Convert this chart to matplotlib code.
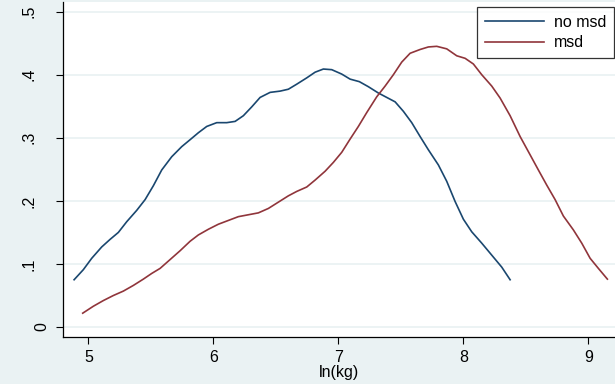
import matplotlib.pyplot as plt
from matplotlib.transforms import ScaledTranslation

# densidades (ln(kg) vs densidad)
x_no = [4.886, 4.960, 5.027, 5.107, 5.174, 5.240, 5.307, 5.387, 5.454, 5.520,
        5.587, 5.667, 5.747, 5.814, 5.880, 5.947, 6.027, 6.107, 6.174, 6.240,
        6.307, 6.374, 6.454, 6.534, 6.600, 6.667, 6.747, 6.814, 6.880, 6.947,
        7.027, 7.094, 7.168, 7.240, 7.320, 7.387, 7.454, 7.520, 7.587, 7.654,
        7.720, 7.800, 7.867, 7.934, 8.000, 8.067, 8.147, 8.227, 8.307, 8.374]
y_no = [0.075, 0.091, 0.109, 0.127, 0.139, 0.150, 0.167, 0.185, 0.202, 0.224,
        0.249, 0.270, 0.286, 0.297, 0.308, 0.318, 0.324, 0.324, 0.326, 0.335,
        0.349, 0.364, 0.372, 0.374, 0.377, 0.385, 0.395, 0.404, 0.409, 0.408,
        0.401, 0.393, 0.389, 0.381, 0.371, 0.364, 0.357, 0.342, 0.324, 0.302,
        0.281, 0.257, 0.231, 0.199, 0.171, 0.151, 0.133, 0.114, 0.095, 0.075]

x_msd = [4.955, 5.040, 5.120, 5.200, 5.280, 5.360, 5.440, 5.507, 5.574, 5.654,
         5.734, 5.814, 5.880, 5.960, 6.040, 6.120, 6.200, 6.280, 6.360, 6.440,
         6.520, 6.600, 6.667, 6.747, 6.814, 6.894, 6.960, 7.027, 7.094, 7.160,
         7.227, 7.307, 7.374, 7.440, 7.507, 7.574, 7.654, 7.720, 7.787, 7.867,
         7.947, 8.014, 8.080, 8.147, 8.227, 8.294, 8.374, 8.454, 8.534, 8.600,
         8.667, 8.734, 8.800, 8.880, 8.947, 9.014, 9.080, 9.152]
y_msd = [0.022, 0.033, 0.042, 0.050, 0.057, 0.066, 0.076, 0.085, 0.093, 0.107,
         0.121, 0.136, 0.146, 0.155, 0.163, 0.169, 0.175, 0.178, 0.181, 0.188,
         0.198, 0.208, 0.215, 0.222, 0.233, 0.247, 0.261, 0.277, 0.298, 0.318,
         0.340, 0.365, 0.382, 0.400, 0.420, 0.434, 0.440, 0.444, 0.445, 0.441,
         0.430, 0.426, 0.417, 0.400, 0.382, 0.363, 0.335, 0.302, 0.273, 0.249,
         0.225, 0.202, 0.176, 0.154, 0.133, 0.109, 0.093, 0.076]

xticks = [5, 6, 7, 8, 9]
yticks = [0, 0.1, 0.2, 0.3, 0.4, 0.5]
yticklabels = ['0', '.1', '.2', '.3', '.4', '.5']

plt.rcParams['font.family'] = ['Liberation Sans', 'DejaVu Sans']
fs = 11.5

fondo = '#eaf2f3'
fig = plt.figure(figsize=(6.15, 3.84), dpi=100, facecolor=fondo)
ax = fig.add_axes([0.103, 0.122, 0.897, 0.874])
ax.set_facecolor('white')

ax.plot(x_no, y_no, color='#1a476f', lw=1.2, label='no msd')
ax.plot(x_msd, y_msd, color='#90353b', lw=1.2, label='msd')

ax.set_xlim(4.8, 9.213)
ax.set_ylim(-0.016, 0.516)
ax.set_xticks(xticks)
ax.set_yticks(yticks)
ax.set_yticklabels(yticklabels, rotation=90, va='center')
ax.grid(axis='y', color=fondo, lw=1.3)
ax.set_axisbelow(True)

for lado in ['top', 'right']:
    ax.spines[lado].set_visible(False)
ax.spines['left'].set_linewidth(0.9)
ax.spines['bottom'].set_linewidth(0.9)
ax.tick_params(axis='y', length=5, width=0.8, pad=14, labelsize=fs)
ax.tick_params(axis='x', length=5, width=0.8, pad=4, labelsize=fs)

# en el original el "0" queda mas cerca del eje
cero = ax.get_yticklabels()[0]
cero.set_transform(cero.get_transform() + ScaledTranslation(12 / 100, 0, fig.dpi_scale_trans))

ax.set_xlabel('ln(kg)', fontsize=fs, labelpad=0)

leg = ax.legend(loc='upper right', bbox_to_anchor=(614 / 615, 1 - 6.7 / 384),
                bbox_transform=fig.transFigure, borderaxespad=0,
                fancybox=False, edgecolor='black', fontsize=fs,
                handlelength=3.7, handletextpad=0.6, labelspacing=0.36,
                borderpad=0.5)
leg.get_frame().set_linewidth(0.9)

plt.savefig('out.png', facecolor=fondo)
